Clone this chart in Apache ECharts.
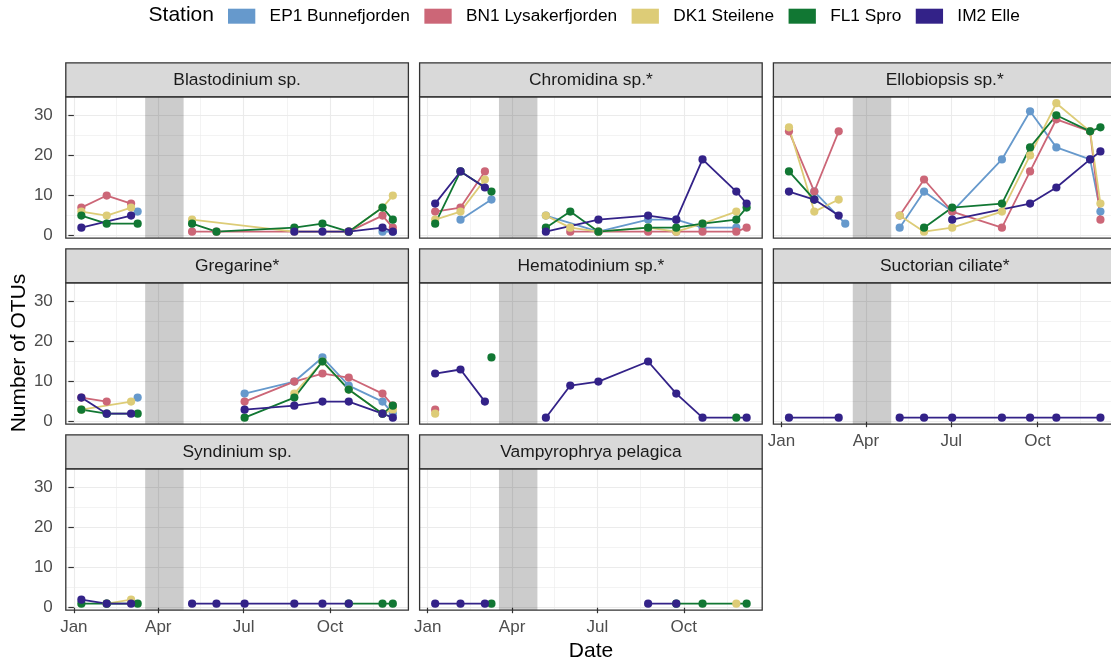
<!DOCTYPE html>
<html><head><meta charset="utf-8">
<script src="https://cdn.jsdelivr.net/npm/echarts@6/dist/echarts.min.js"></script>
<style>html,body{margin:0;padding:0;background:#fff}#c{width:1111px;height:663px}</style>
</head><body><div id="c"></div>
<script>
// ---------------- data ----------------
const stations = ['EP1 Bunnefjorden', 'BN1 Lysakerfjorden', 'DK1 Steilene', 'FL1 Spro', 'IM2 Elle'];
const stationColors = ['#6699CC', '#CC6677', '#DDCC77', '#117733', '#332288'];
// sampling dates (EP1 and FL1 were sampled one week later in March)
const datesEarlyMarch = ['2017-01-09','2017-02-05','2017-03-03','2017-05-07','2017-06-02','2017-07-02','2017-08-24','2017-09-23','2017-10-21','2017-11-26','2017-12-07'];
const datesLateMarch  = ['2017-01-09','2017-02-05','2017-03-10','2017-05-07','2017-06-02','2017-07-02','2017-08-24','2017-09-23','2017-10-21','2017-11-26','2017-12-07'];
const stationDates = [datesLateMarch, datesEarlyMarch, datesEarlyMarch, datesLateMarch, datesEarlyMarch];

const taxa = ['Blastodinium sp.', 'Chromidina sp.*', 'Ellobiopsis sp.*', 'Gregarine*', 'Hematodinium sp.*', 'Suctorian ciliate*', 'Syndinium sp.', 'Vampyrophrya pelagica'];

// rows: EP1, BN1, DK1, FL1, IM2 ; columns follow the sampling dates
const blastodinium = [
  [null, null, 6, null, null, null, null, null, null, 1, 1],
  [7, 10, 8, 1, 1, null, null, null, 1, 5, 2],
  [6, 5, 7, 4, null, null, 1, null, 1, 7, 10],
  [5, 3, 3, 3, 1, null, 2, 3, 1, 7, 4],
  [2, null, 5, null, null, null, 1, 1, 1, 2, 1]
];
const chromidina = [
  [null, 4, 9, 5, null, 1, 4, 4, 2, 2, null],
  [6, 7, 16, null, 1, 1, 1, 1, 1, 1, 2],
  [4, 6, 14, 5, 2, 1, 2, 1, 3, 6, null],
  [3, 16, 11, 2, 6, 1, 2, 2, 3, 4, 7],
  [8, 16, 12, 1, null, 4, 5, 4, 19, 11, 8]
];
const ellobiopsis = [
  [null, 11, 3, 2, 11, 6, 19, 31, 22, 19, 6],
  [26, 11, 26, 5, 14, 6, 2, 16, 29, 26, 4],
  [27, 6, 9, 5, 1, 2, 6, 20, 33, 26, 8],
  [16, 9, null, null, 2, 7, 8, 22, 30, 26, 27],
  [11, 9, 5, null, null, 4, null, 8, 12, 19, 21]
];
const gregarine = [
  [null, null, 6, null, null, 7, 10, 16, 9, 5, 2],
  [6, 5, null, null, null, 5, 10, 12, 11, 7, 4],
  [3, null, 5, null, null, null, 7, 15, 8, 2, 3],
  [3, 2, 2, null, null, 1, 6, 15, 8, 2, 4],
  [6, 2, 2, null, null, 3, 4, 5, 5, 2, 1]
];
const hematodinium = [
  [null, null, null, null, null, null, null, null, null, null, null],
  [3, null, null, null, null, null, null, null, null, null, null],
  [2, null, null, null, null, null, null, null, null, null, null],
  [null, null, 16, null, null, null, null, null, null, 1, null],
  [12, 13, 5, 1, 9, 10, 15, 7, 1, null, 1]
];
const suctorian = [
  [null, null, null, null, null, null, null, null, null, null, null],
  [null, null, null, null, null, null, null, null, null, null, null],
  [null, null, null, null, null, null, null, null, null, null, null],
  [null, null, null, null, null, null, null, null, null, null, null],
  [1, null, 1, 1, 1, 1, 1, 1, 1, null, 1]
];
const syndinium = [
  [null, null, null, null, null, null, null, null, null, null, null],
  [null, null, null, null, null, null, null, null, null, null, null],
  [null, 1, 2, null, null, null, null, null, null, null, null],
  [1, 1, 1, null, null, null, null, null, 1, 1, 1],
  [2, 1, 1, 1, 1, 1, 1, 1, 1, null, null]
];
const vampyrophrya = [
  [null, null, null, null, null, null, null, null, null, null, null],
  [null, null, null, null, null, null, null, null, null, null, null],
  [null, null, null, null, null, null, null, null, null, 1, null],
  [null, null, 1, null, null, null, null, 1, 1, null, 1],
  [1, 1, 1, null, null, null, 1, 1, null, null, null]
];
const taxonValues = [blastodinium, chromidina, ellobiopsis, gregarine, hematodinium, suctorian, syndinium, vampyrophrya];

const shadeStart = '2017-03-18';
const shadeEnd = '2017-04-28';
const xMajorTicks = ['2017-01-01', '2017-04-01', '2017-07-01', '2017-10-01'];
const xMajorLabels = ['Jan', 'Apr', 'Jul', 'Oct'];
const xMinorTicks = ['2017-02-15', '2017-05-16', '2017-08-16', '2017-11-16'];
const yMajorTicks = [0, 10, 20, 30];
const yMinorTicks = [5, 15, 25];

// ---------------- helpers ----------------
const dayOf = s => { const p = s.split('-').map(Number); return (Date.UTC(p[0], p[1] - 1, p[2]) - Date.UTC(2017, 0, 1)) / 864e5; };
const allDays = datesEarlyMarch.concat(datesLateMarch).map(dayOf);
const dMin = Math.min(...allDays), dMax = Math.max(...allDays);
const xMin = dMin - 0.05 * (dMax - dMin), xMax = dMax + 0.05 * (dMax - dMin);
const allVals = [];
taxonValues.forEach(t => t.forEach(r => r.forEach(v => { if (v != null) allVals.push(v); })));
const vMin = Math.min(...allVals), vMax = Math.max(...allVals);
const yMin = vMin - 0.05 * (vMax - vMin), yMax = vMax + 0.05 * (vMax - vMin);
const shadeS = dayOf(shadeStart), shadeE = dayOf(shadeEnd);
const majorDays = xMajorTicks.map(dayOf), minorDays = xMinorTicks.map(dayOf);

// ---------------- layout ----------------
const FONT = "'Liberation Sans', Arial, Helvetica, sans-serif";
const colLeft = [65.8, 419.6, 773.4];
const rowTop = [96.8, 282.8, 468.8];
const panelW = 342.6, panelH = 141.3, stripH = 34;

const grids = [], xAxes = [], yAxes = [], series = [], graphics = [];

taxa.forEach((name, p) => {
  const col = p % 3, row = Math.floor(p / 3);
  const left = colLeft[col], top = rowTop[row];
  const showX = (p + 3) >= taxa.length;
  const showY = col === 0;
  grids.push({ left: left, top: top, width: panelW, height: panelH, show: false, containLabel: false, outerBoundsMode: 'none' });
  const xi = xAxes.length, yi = yAxes.length;
  xAxes.push({
    type: 'value', gridIndex: p, min: xMin, max: xMax, position: 'bottom',
    axisLine: { show: false },
    axisTick: { show: showX, length: 5.5, customValues: majorDays, lineStyle: { color: '#333333', width: 1.2 } },
    axisLabel: { show: showX, customValues: majorDays, margin: 9, color: '#4D4D4D', fontSize: 17, fontFamily: FONT,
      formatter: v => xMajorLabels[majorDays.indexOf(Math.round(v))] || '' },
    splitLine: { show: true, lineStyle: { color: '#EBEBEB', width: 1.1 } }
  });
  xAxes.push({
    type: 'value', gridIndex: p, min: xMin, max: xMax, position: 'top',
    axisLine: { show: false }, axisLabel: { show: false },
    axisTick: { show: false, customValues: minorDays },
    splitLine: { show: true, lineStyle: { color: '#EBEBEB', width: 0.6 } }
  });
  yAxes.push({
    type: 'value', gridIndex: p, min: yMin, max: yMax, position: 'left',
    axisLine: { show: false },
    axisTick: { show: showY, length: 5.5, customValues: yMajorTicks, lineStyle: { color: '#333333', width: 1.2 } },
    axisLabel: { show: showY, customValues: yMajorTicks, margin: 13, color: '#4D4D4D', fontSize: 17, fontFamily: FONT },
    splitLine: { show: true, lineStyle: { color: '#EBEBEB', width: 1.1 } }
  });
  yAxes.push({
    type: 'value', gridIndex: p, min: yMin, max: yMax, position: 'right',
    axisLine: { show: false }, axisLabel: { show: false },
    axisTick: { show: false, customValues: yMinorTicks },
    splitLine: { show: true, lineStyle: { color: '#EBEBEB', width: 0.6 } }
  });

  // shaded period
  series.push({
    type: 'line', name: 'shade', xAxisIndex: xi, yAxisIndex: yi, data: [], silent: true, z: 1,
    markArea: { silent: true, itemStyle: { color: 'rgba(0,0,0,0.2)' }, data: [[{ xAxis: shadeS }, { xAxis: shadeE }]] }
  });

  const vals = taxonValues[p];
  stations.forEach((st, s) => {
    const dates = stationDates[s];
    const linePts = [], pts = [];
    let prev = null;
    vals[s].forEach((v, k) => {
      if (v == null) return;
      const d = dayOf(dates[k]);
      if (prev !== null && prev < shadeS && d > shadeE) linePts.push([(prev + d) / 2, null]);
      linePts.push([d, v]);
      pts.push([d, v]);
      prev = d;
    });
    series.push({
      type: 'line', name: st, xAxisIndex: xi, yAxisIndex: yi, data: linePts,
      showSymbol: false, symbol: 'none', connectNulls: false, z: 2, silent: true,
      color: stationColors[s], itemStyle: { color: stationColors[s] },
      lineStyle: { color: stationColors[s], width: 1.8 }
    });
    series.push({
      type: 'scatter', name: st, xAxisIndex: xi, yAxisIndex: yi, data: pts,
      symbolSize: 8.2, z: 3 + s * 0.01, silent: true,
      color: stationColors[s], itemStyle: { color: stationColors[s], opacity: 1 }
    });
  });

  // strip
  graphics.push({ type: 'rect', z: 50, silent: true,
    shape: { x: left, y: top - stripH, width: panelW, height: stripH },
    style: { fill: '#D9D9D9', stroke: '#333333', lineWidth: 1.3 } });
  graphics.push({ type: 'text', z: 51, silent: true, x: left + panelW / 2, y: top - stripH / 2,
    style: { text: name, fill: '#1A1A1A', font: '17.4px ' + FONT, align: 'center', verticalAlign: 'middle' } });
  // panel border
  graphics.push({ type: 'rect', z: 50, silent: true,
    shape: { x: left, y: top, width: panelW, height: panelH },
    style: { fill: 'rgba(0,0,0,0)', stroke: '#333333', lineWidth: 1.3 } });
});

graphics.push({ type: 'text', silent: true, x: 148.6, y: 15,
  style: { text: 'Station', fill: '#000', font: '21px ' + FONT, align: 'left', verticalAlign: 'middle' } });
graphics.push({ type: 'text', silent: true, x: 591, y: 651,
  style: { text: 'Date', fill: '#000', font: '21px ' + FONT, align: 'center', verticalAlign: 'middle' } });
graphics.push({ type: 'text', silent: true, x: 19.5, y: 353, rotation: Math.PI / 2,
  style: { text: 'Number of OTUs', fill: '#000', font: '21px ' + FONT, align: 'center', verticalAlign: 'middle' } });

const chart = echarts.init(document.getElementById('c'), null, { renderer: 'canvas' });
chart.setOption({
  animation: false,
  backgroundColor: '#ffffff',
  grid: grids,
  xAxis: xAxes,
  yAxis: yAxes,
  legend: {
    data: stations, icon: 'rect', itemWidth: 27.3, itemHeight: 15, itemGap: 14.5,
    left: 228, top: 7.7, padding: 0, selectedMode: false,
    textStyle: { fontSize: 17.3, color: '#000', fontFamily: FONT, padding: [0, 0, 0, 9.3] }
  },
  series: series,
  graphic: graphics
});
</script></body></html>
